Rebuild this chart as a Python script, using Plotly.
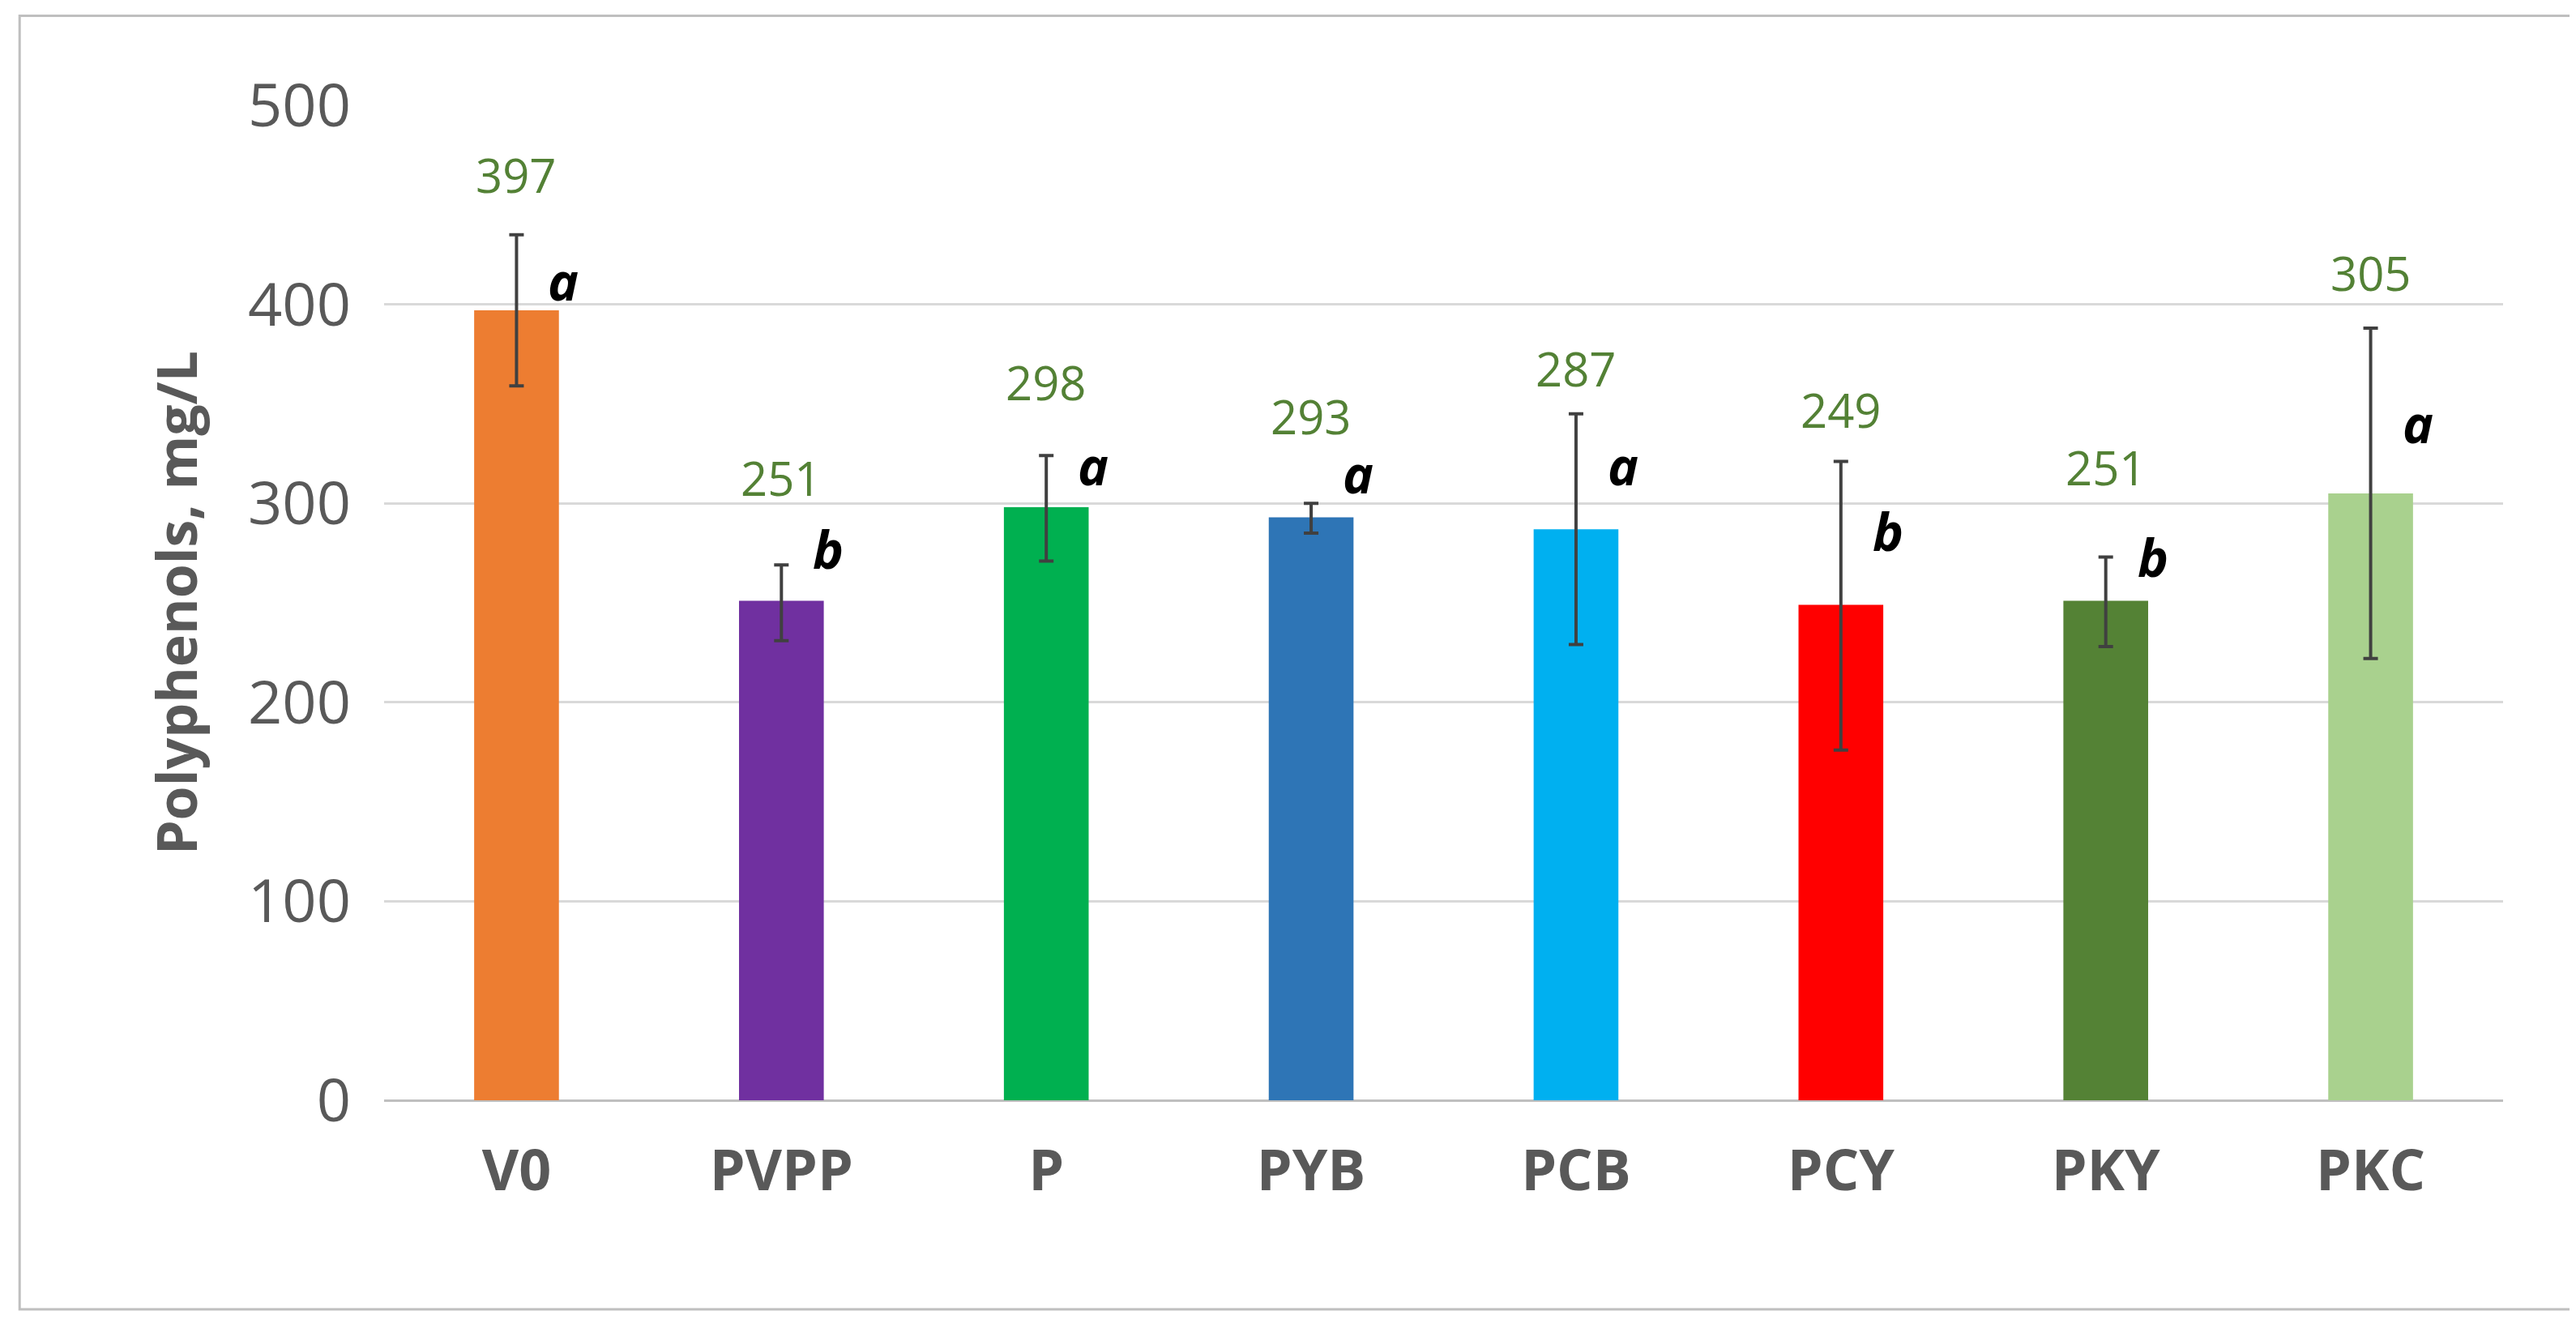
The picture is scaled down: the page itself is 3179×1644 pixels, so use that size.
import plotly.graph_objects as go

categories = ["V0", "PVPP", "P", "PYB", "PCB", "PCY", "PKY", "PKC"]
values = [397, 251, 298, 293, 287, 249, 251, 305]
err_plus = [38, 18, 26, 7, 58, 72, 22, 83]
err_minus = [38, 20, 27, 8, 58, 73, 23, 83]
letters = ["a", "b", "a", "a", "a", "b", "b", "a"]
letter_y = [412, 277, 319, 315, 319, 286, 273, 340]
label_y = [465, 313, 361, 344, 368, 347, 318, 416]
colors = ["#ED7D31", "#7030A0", "#00B050", "#2E75B6", "#00B0F0", "#FF0000", "#548235", "#A9D18E"]

fig = go.Figure()
fig.add_trace(go.Bar(
    x=categories, y=values, width=0.32,
    marker=dict(color=colors, line=dict(width=0)),
    error_y=dict(type="data", array=err_plus, arrayminus=err_minus,
                 color="#404040", thickness=4, width=9),
    showlegend=False,
))

for cat, v, ly in zip(categories, values, label_y):
    fig.add_annotation(x=cat, y=ly, text=str(v), showarrow=False,
                       font=dict(family="Open Sans", size=58, color="#538135"),
                       xshift=0)
for cat, l, ly in zip(categories, letters, letter_y):
    fig.add_annotation(x=cat, y=ly, text="<b><i>" + l + "</i></b>", showarrow=False,
                       font=dict(family="Open Sans", size=64, color="#000000"),
                       xshift=58)

# outer frame
fig.add_shape(type="rect", xref="paper", yref="paper",
              x0=-0.172, x1=1.033, y0=-0.21, y1=1.09,
              line=dict(color="#BFBFBF", width=3))

fig.update_yaxes(range=[0, 500], dtick=100, showgrid=True, gridcolor="#D9D9D9", gridwidth=3,
                 zeroline=True, zerolinecolor="#BFBFBF", zerolinewidth=3,
                 tickfont=dict(family="Open Sans", size=74, color="#595959"),
                 ticklabelstandoff=40,
                 title=dict(text="<b>Polyphenols, mg/L</b>", standoff=40,
                            font=dict(family="Open Sans", size=68, color="#595959")))
fig.update_xaxes(showgrid=False, showline=False,
                 tickfont=dict(family="Open Sans", size=70, color="#595959", weight="bold"),
                 ticklabelstandoff=40)
fig.update_layout(width=3179, height=1644, plot_bgcolor="white", paper_bgcolor="white",
                  margin=dict(l=466, r=98, t=122, b=294), bargap=0.68)

fig.write_html("out.html")
